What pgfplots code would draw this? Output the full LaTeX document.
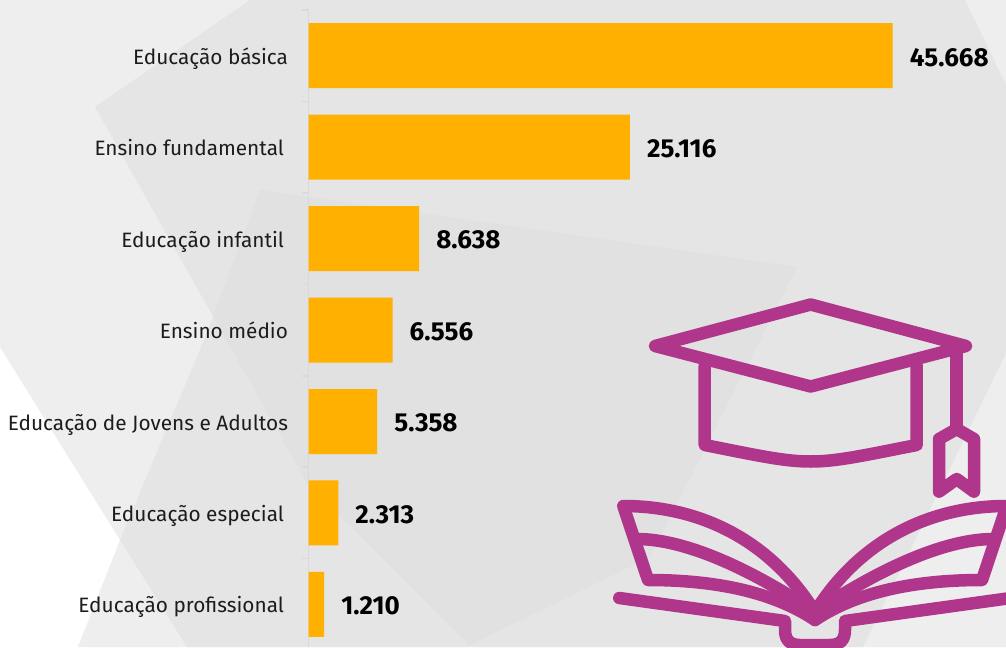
\documentclass[border=0pt]{standalone}
\usepackage{fontspec}
\setmainfont{Fira Sans}
\usepackage{pgfplots}
\usepackage{pgfplotstable}
\pgfplotsset{compat=1.18}
\definecolor{bgA}{HTML}{EEEEEE}
\definecolor{bgB}{HTML}{E5E5E5}
\definecolor{bgC}{HTML}{E1E1E1}
\definecolor{barc}{HTML}{FFB000}
\definecolor{iconc}{HTML}{B0368C}
\definecolor{axc}{HTML}{DADADA}
\definecolor{txt}{HTML}{1C1C1C}
\pgfplotstableread[col sep=comma]{
k,v,lab
0,45668,45.668
1,25116,25.116
2,8638,8.638
3,6556,6.556
4,5358,5.358
5,2313,2.313
6,1210,1.210
}\datatable
\begin{document}
\begin{tikzpicture}
\begin{scope}[x=1pt,y=-1pt]
\path[use as bounding box,clip] (0,0) rectangle (1006,647);
\fill[white] (0,0) rectangle (1006,647);
\fill[bgA] (0,0)--(1006,0)--(1006,647)--(187,647)--(120,540)--(0,347)--cycle;
\fill[bgA] (78,647)--(120,540)--(187,647)--cycle;
\fill[bgB] (120,540)--(207,333)--(260,190)--(797,267)--(650,557)--(470,645)--(470,647)--(187,647)--cycle;
\fill[bgB] (95,107)--(250,0)--(965,0)--(1006,85)--(1006,353)--(863,647)--(472,647)--(307,483)--cycle;
\begin{scope}
\clip (95,107)--(250,0)--(965,0)--(1006,85)--(1006,353)--(863,647)--(472,647)--(307,483)--cycle;
\fill[bgC] (120,540)--(207,333)--(260,190)--(797,267)--(650,557)--(470,645)--(470,647)--(187,647)--cycle;
\end{scope}
\end{scope}
\begin{axis}[
  at={(308.7pt,-10pt)},anchor=north west,
  scale only axis,width=697pt,height=637pt,
  xmin=0,xmax=54505,
  y dir=reverse,ymin=-0.5,ymax=6.466,
  axis y line*=left,
  hide x axis,
  clip=false,
  xbar,bar width=65pt,
  ytick={0,1,2,3,4,5,6},
  yticklabels={Educação básica,Ensino fundamental\hspace*{4pt},Educação infantil\hspace*{4pt},Ensino médio,Educação de Jovens e Adultos,Educação especial\hspace*{4pt},Educação profissional\hspace*{4pt}},
  minor ytick={-0.5,0.5,1.5,2.5,3.5,4.5,5.5},
  tick align=outside,
  major tick length=0pt,
  minor tick length=7pt,
  every minor tick/.style={axc,line width=1.5pt},
  axis line style={axc,line width=1.5pt},
  yticklabel style={font=\fontsize{20.8}{24}\selectfont,text=txt,anchor=east,inner sep=0pt,xshift=-20.5pt,yshift=-1pt,text height=20pt,text depth=5pt},
  nodes near coords,
  point meta=explicit symbolic,
  nodes near coords align={horizontal},
  every node near coord/.append style={font=\fontsize{26}{30}\selectfont\bfseries,text=black,anchor=west,inner sep=0pt,xshift=17pt,yshift=-1.5pt},
]
\addplot[fill=barc,draw=none,bar shift=0pt] table[x=v,y=k,meta=lab] {\datatable};
\end{axis}
\begin{scope}[x=1pt,y=-1pt,line width=12.5pt,draw=iconc,line join=round,line cap=round]
\clip (0,0) rectangle (1006,647);
\draw (810.7,304.5)--(966,346)--(810.7,386.5)--(655,346)--cycle;
\draw (704.7,366)--(704.7,445) .. controls (760,456) and (785,461.5) .. (810.7,461.5) .. controls (836,461.5) and (861,456) .. (916.7,445)--(916.7,366);
\draw (956.7,346)--(956.7,425);
\draw (956.7,429)--(974,439)--(974,491.7)--(956.7,479)--(939,491.7)--(939,439)--cycle;
\draw (815,612) .. controls (770,540) and (700,506) .. (623.3,506)--(648,580) .. controls (710,580) and (770,590) .. (815,620);
\draw (636.7,539) .. controls (690,539) and (760,575) .. (815,612);
\draw (815,612) .. controls (860,540) and (930,506) .. (1006.7,506)--(982,580) .. controls (920,580) and (860,590) .. (815,620);
\draw (993.3,539) .. controls (940,539) and (870,575) .. (815,612);
\draw (619.3,598)--(785,621)--(785,630) .. controls (785,640) and (790,645) .. (800,645)--(830,645) .. controls (840,645) and (845,640) .. (845,630)--(845,621)--(1010.7,598);
\end{scope}
\end{tikzpicture}
\end{document}
